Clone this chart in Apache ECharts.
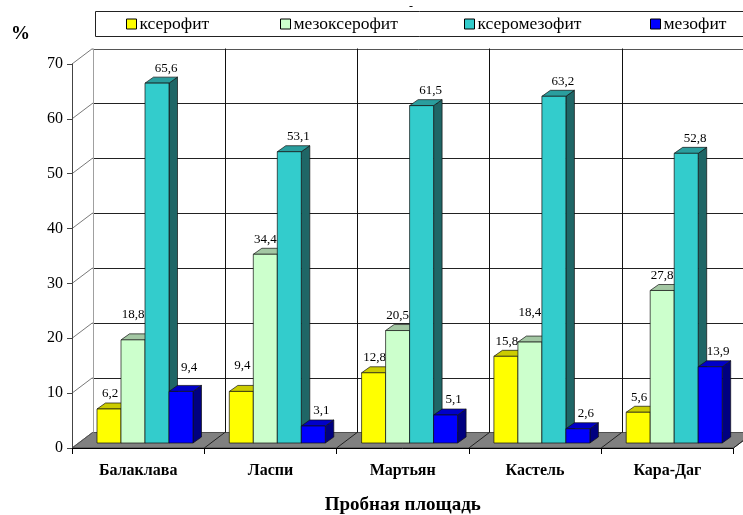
<!DOCTYPE html>
<html>
<head>
<meta charset="utf-8">
<script src="https://cdn.jsdelivr.net/npm/echarts@6/dist/echarts.min.js"></script>
<style>
  html, body { margin: 0; padding: 0; background: #fff; }
  #chart { width: 743px; height: 515px; }
</style>
</head>
<body>
<div id="chart"></div>
<script>
// Sample plots and life-form shares, %
const categories = ['Балаклава', 'Ласпи', 'Мартьян', 'Кастель', 'Кара-Даг'];
const seriesNames = ['ксерофит', 'мезоксерофит', 'ксеромезофит', 'мезофит'];
const kserofit = [6.2, 9.4, 12.8, 15.8, 5.6];
const mezokserofit = [18.8, 34.4, 20.5, 18.4, 27.8];
const kseromezofit = [65.6, 53.1, 61.5, 63.2, 52.8];
const mezofit = [9.4, 3.1, 5.1, 2.6, 13.9];
const yMin = 0, yMax = 70, yStep = 10;

const seriesValues = [kserofit, mezokserofit, kseromezofit, mezofit];

// Face colours of the pseudo-3D columns: front, top, side
const faces = [
  { front: '#FFFF00', top: '#CCCC00', side: '#999900' },
  { front: '#CCFFCC', top: '#A3C7A3', side: '#8FB38F' },
  { front: '#33CCCC', top: '#2A9E9E', side: '#1F6666' },
  { front: '#0000FF', top: '#0000C8', side: '#000080' }
];

// Extra lift (px) for a few value labels that sit higher above their column
const labelRaise = [
  [0, 11, 0, 0, 0],
  [10, 0, 0, 14, 0],
  [0, 0, 0, 0, 0],
  [9, 0, 0, 0, 0]
];
const labelShiftX = [1, 0, 9, 8];

const FONT = "'Liberation Serif', 'Times New Roman', serif";

// Depth of the floor / back wall, and of each column
const WALL_DX = 20.5, WALL_DY = -15.5;
const BAR_DX = 8.5, BAR_DY = -6;
const BAR_BACKSET = 5;          // columns stand slightly behind the front edge
const GROUP_START = 25 / 132.3; // offset of first column inside a category
const BAR_W = 24 / 132.3;       // column width as share of category width

const fmt = v => String(v).replace('.', ',');
const px = v => Math.round(v) + 0.5;

// Back wall, side wall, floor and grid lines
function renderFrame(params, api) {
  const cs = params.coordSys;
  const x0 = cs.x, x1 = cs.x + cs.width;
  const yBase = api.coord([0, yMin])[1];
  const children = [];
  const catW = cs.width / categories.length;

  // floor
  children.push({
    type: 'polygon',
    shape: { points: [[x0, yBase], [x1, yBase], [x1 + WALL_DX, yBase + WALL_DY], [x0 + WALL_DX, yBase + WALL_DY]] },
    style: { fill: '#808080', stroke: '#333', lineWidth: 0.8 }
  });
  // floor dividers between categories
  for (let k = 1; k <= categories.length; k++) {
    const fx = x0 + catW * k;
    children.push({
      type: 'line',
      shape: { x1: fx, y1: yBase, x2: fx + WALL_DX, y2: yBase + WALL_DY },
      style: { stroke: '#222', lineWidth: 1 }
    });
  }
  // horizontal grid lines on the back wall and diagonals on the side wall
  for (let t = yMin; t <= yMax; t += yStep) {
    const fy = api.coord([0, t])[1];
    const by = px(fy + WALL_DY);
    if (t > yMin) {
      children.push({
        type: 'line',
        shape: { x1: x0 + WALL_DX, y1: by, x2: x1 + WALL_DX, y2: by },
        style: { stroke: t === yMax ? '#555' : '#222', lineWidth: 1 }
      });
    }
    children.push({
      type: 'line',
      shape: { x1: x0, y1: fy, x2: x0 + WALL_DX, y2: fy + WALL_DY },
      style: { stroke: '#555', lineWidth: 0.8 }
    });
  }
  const topBack = api.coord([0, yMax])[1] + WALL_DY;
  const botBack = yBase + WALL_DY;
  // back wall left edge
  children.push({
    type: 'line',
    shape: { x1: px(x0 + WALL_DX), y1: topBack, x2: px(x0 + WALL_DX), y2: botBack },
    style: { stroke: '#A0A0A0', lineWidth: 1 }
  });
  // vertical dividers on the back wall
  for (let k = 1; k <= categories.length; k++) {
    const bx = px(x0 + catW * k + WALL_DX);
    children.push({
      type: 'line',
      shape: { x1: bx, y1: topBack, x2: bx, y2: botBack },
      style: { stroke: '#111', lineWidth: 1 }
    });
  }
  return { type: 'group', children };
}

function makeColumnRenderer(j) {
  return function (params, api) {
    const i = api.value(0);
    const v = api.value(1);
    const catW = api.size([1, 0])[0];
    const base = api.coord([i, 0]);
    const top = api.coord([i, v]);
    const w = catW * BAR_W;
    const xl = base[0] - catW / 2 + catW * GROUP_START + w * j;
    const xr = xl + w;
    const yb = base[1] - BAR_BACKSET;
    const yt = top[1] - BAR_BACKSET;
    const f = faces[j];
    const edge = { stroke: '#111', lineWidth: 0.7 };
    const children = [
      {
        type: 'polygon',
        shape: { points: [[xr, yb], [xr, yt], [xr + BAR_DX, yt + BAR_DY], [xr + BAR_DX, yb + BAR_DY]] },
        style: Object.assign({ fill: f.side }, edge)
      },
      {
        type: 'polygon',
        shape: { points: [[xl, yt], [xr, yt], [xr + BAR_DX, yt + BAR_DY], [xl + BAR_DX, yt + BAR_DY]] },
        style: Object.assign({ fill: f.top }, edge)
      },
      {
        type: 'rect',
        shape: { x: xl, y: yt, width: w, height: yb - yt },
        style: Object.assign({ fill: f.front }, edge)
      },
      {
        type: 'text',
        x: (xl + xr) / 2 + labelShiftX[j],
        y: yt - 15 - labelRaise[j][i],
        style: {
          text: fmt(v),
          font: '13px ' + FONT,
          fill: '#000',
          align: 'center',
          verticalAlign: 'middle'
        }
      }
    ];
    return { type: 'group', children };
  };
}

const chart = echarts.init(document.getElementById('chart'), null, { renderer: 'canvas' });

const legendLefts = [126, 280, 464, 650];

const option = {
  backgroundColor: '#fff',
  animation: false,
  title: {
    text: '-',
    left: 404,
    top: -4,
    textStyle: { fontFamily: FONT, fontSize: 12, fontWeight: 'normal', color: '#000' }
  },
  legend: seriesNames.map((name, k) => ({
    data: [name],
    left: legendLefts[k],
    top: 15,
    icon: 'rect',
    itemWidth: 10,
    itemHeight: 10,
    itemGap: 0,
    padding: 0,
    selectedMode: false,
    itemStyle: { borderColor: '#000', borderWidth: 1 },
    textStyle: { fontFamily: FONT, fontSize: 17.5, color: '#000', padding: [0, 0, 0, -2] }
  })),
  graphic: [{
    type: 'rect',
    shape: { x: 95.5, y: 11.5, width: 700, height: 25 },
    style: { fill: 'none', stroke: '#222', lineWidth: 1 },
    z: 0
  }],
  grid: { left: 72, right: 9.5, top: 64, bottom: 67, containLabel: false, outerBoundsMode: 'none' },
  xAxis: {
    type: 'category',
    data: categories,
    z: 10,
    name: 'Пробная площадь',
    nameLocation: 'middle',
    nameGap: 48,
    nameTextStyle: { fontFamily: FONT, fontSize: 19, fontWeight: 'bold', color: '#000' },
    axisLine: { lineStyle: { color: '#000', width: 1 } },
    axisTick: { show: true, length: 6, lineStyle: { color: '#000' } },
    axisLabel: { fontFamily: FONT, fontSize: 16, fontWeight: 'bold', color: '#000', margin: 15 },
    splitLine: { show: false }
  },
  yAxis: {
    type: 'value',
    min: yMin,
    max: yMax,
    interval: yStep,
    z: 10,
    name: '%',
    nameLocation: 'end',
    nameGap: 30,
    nameTextStyle: {
      fontFamily: FONT, fontSize: 19, fontWeight: 'bold', color: '#000',
      align: 'right', verticalAlign: 'middle', padding: [0, 42, 0, 0]
    },
    axisLine: { show: true, lineStyle: { color: '#444', width: 1 } },
    axisTick: { show: true, length: 5, lineStyle: { color: '#444' } },
    axisLabel: { fontFamily: FONT, fontSize: 16, color: '#000', margin: 9 },
    splitLine: { show: false }
  },
  series: [
    {
      type: 'custom',
      name: 'frame',
      z: 1,
      silent: true,
      renderItem: renderFrame,
      data: [[0, 0]],
      encode: { x: 0, y: 1 }
    }
  ].concat(seriesNames.map((name, j) => ({
    type: 'custom',
    name: name,
    z: 2,
    itemStyle: { color: faces[j].front },
    renderItem: makeColumnRenderer(j),
    data: seriesValues[j].map((v, i) => [i, v]),
    encode: { x: 0, y: 1 }
  })))
};

chart.setOption(option);
</script>
</body>
</html>
